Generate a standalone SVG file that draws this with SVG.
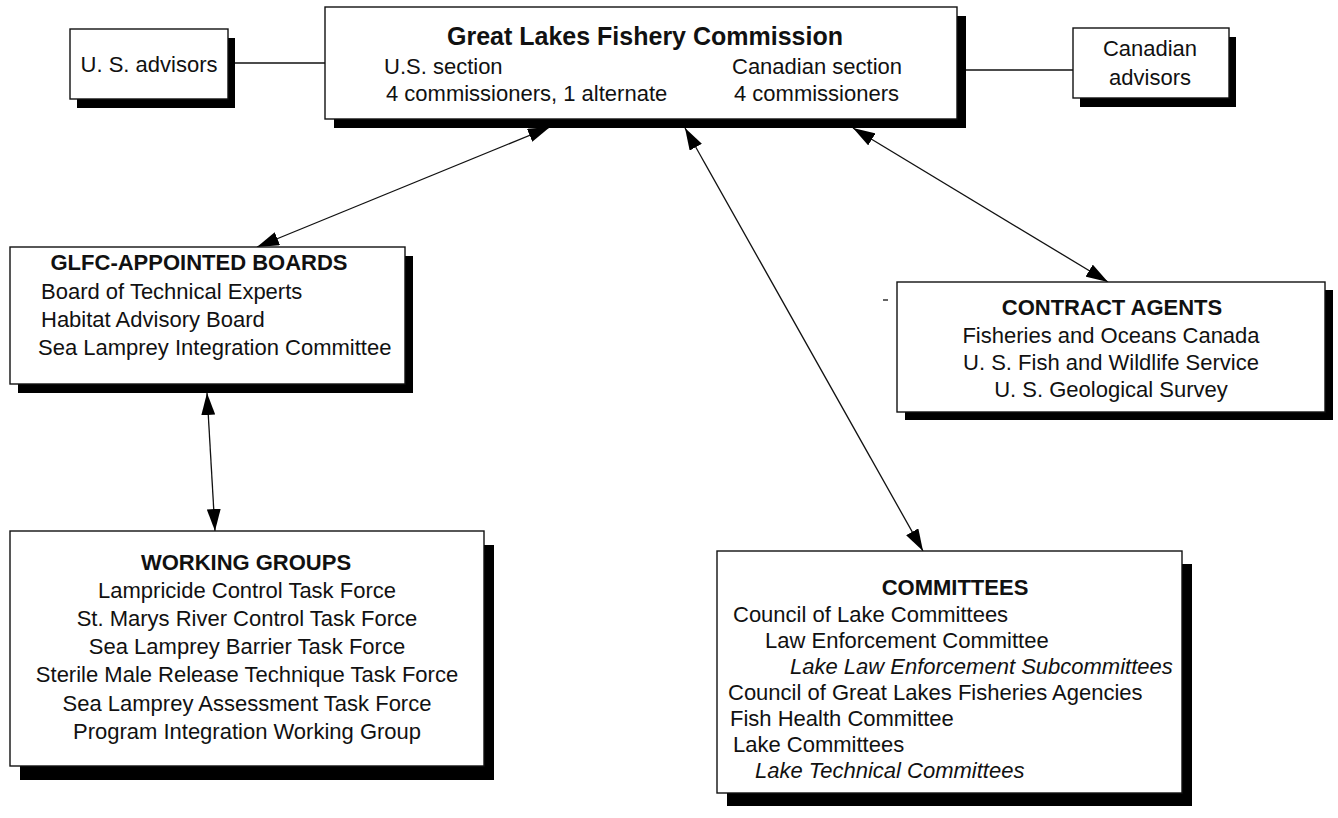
<svg xmlns="http://www.w3.org/2000/svg" width="1338" height="818" viewBox="0 0 1338 818">
<style>
  .box{fill:#fff;stroke:#111;stroke-width:1.4}
  .sh{fill:#000}
  text{font-family:"Liberation Sans",Arial,Helvetica,sans-serif;font-size:22px;fill:#111}
  .b{font-weight:bold}
  .t{font-size:25px;font-weight:bold}
  .i{font-style:italic}
  .m{text-anchor:middle}
  .ln{stroke:#111;stroke-width:1.3;fill:none}
</style>
<defs>
  <marker id="ah" viewBox="0 0 22 14" refX="22" refY="7" markerWidth="22" markerHeight="14" markerUnits="userSpaceOnUse" orient="auto-start-reverse">
    <path d="M0,0 L22,7 L0,14 Z" fill="#000"/>
  </marker>
</defs>
<rect width="1338" height="818" fill="#fff"/>

<g id="connectors">
  <line class="ln" x1="234" y1="63" x2="325" y2="63"/>
  <line class="ln" x1="966" y1="70" x2="1073" y2="70"/>
  <line class="ln" x1="550" y1="127" x2="257" y2="247" marker-start="url(#ah)" marker-end="url(#ah)"/>
  <line class="ln" x1="685" y1="128" x2="923" y2="551" marker-start="url(#ah)" marker-end="url(#ah)"/>
  <line class="ln" x1="853" y1="128" x2="1108" y2="282" marker-start="url(#ah)" marker-end="url(#ah)"/>
  <line class="ln" x1="207" y1="393" x2="215" y2="531" marker-start="url(#ah)" marker-end="url(#ah)"/>
  <line class="ln" x1="883" y1="300" x2="888" y2="300"/>
</g>

<g id="us-advisors">
  <rect class="sh" x="77" y="38" width="158" height="70"/>
  <rect class="box" x="70" y="29" width="158" height="70"/>
  <text x="149" y="72" class="m">U. S. advisors</text>
</g>

<g id="commission">
  <rect class="sh" x="334" y="16" width="632" height="112"/>
  <rect class="box" x="325" y="7" width="632" height="112"/>
  <text x="645" y="45" class="t m">Great Lakes Fishery Commission</text>
  <text x="384" y="74">U.S. section</text>
  <text x="386" y="101">4 commissioners, 1 alternate</text>
  <text x="732" y="74">Canadian section</text>
  <text x="734" y="101">4 commissioners</text>
</g>

<g id="canadian-advisors">
  <rect class="sh" x="1080" y="37" width="156" height="70"/>
  <rect class="box" x="1073" y="28" width="156" height="70"/>
  <text x="1150" y="56" class="m">Canadian</text>
  <text x="1150" y="85" class="m">advisors</text>
</g>

<g id="boards">
  <rect class="sh" x="18" y="256" width="395" height="137"/>
  <rect class="box" x="10" y="247" width="395" height="137"/>
  <text x="199" y="270" class="b m">GLFC-APPOINTED BOARDS</text>
  <text x="41" y="299">Board of Technical Experts</text>
  <text x="41" y="327">Habitat Advisory Board</text>
  <text x="38" y="355">Sea Lamprey Integration Committee</text>
</g>

<g id="contract-agents">
  <rect class="sh" x="905" y="290" width="428" height="130"/>
  <rect class="box" x="897" y="282" width="428" height="130"/>
  <text x="1112" y="315" class="b m">CONTRACT AGENTS</text>
  <text x="1111" y="343" class="m">Fisheries and Oceans Canada</text>
  <text x="1111" y="370" class="m">U. S. Fish and Wildlife Service</text>
  <text x="1111" y="397" class="m">U. S. Geological Survey</text>
</g>

<g id="working-groups">
  <rect class="sh" x="20" y="545" width="474" height="235"/>
  <rect class="box" x="10" y="531" width="474" height="235"/>
  <text x="246" y="570" class="b m">WORKING GROUPS</text>
  <text x="247" y="598" class="m">Lampricide Control Task Force</text>
  <text x="247" y="626" class="m">St. Marys River Control Task Force</text>
  <text x="247" y="654" class="m">Sea Lamprey Barrier Task Force</text>
  <text x="247" y="682" class="m">Sterile Male Release Technique Task Force</text>
  <text x="247" y="711" class="m">Sea Lamprey Assessment Task Force</text>
  <text x="247" y="739" class="m">Program Integration Working Group</text>
</g>

<g id="committees">
  <rect class="sh" x="727" y="564" width="465" height="242"/>
  <rect class="box" x="717" y="551" width="465" height="242"/>
  <text x="955" y="595" class="b m">COMMITTEES</text>
  <text x="733" y="622">Council of Lake Committees</text>
  <text x="765" y="648">Law Enforcement Committee</text>
  <text x="790" y="674" class="i">Lake Law Enforcement Subcommittees</text>
  <text x="728" y="700">Council of Great Lakes Fisheries Agencies</text>
  <text x="730" y="726">Fish Health Committee</text>
  <text x="733" y="752">Lake Committees</text>
  <text x="755" y="778" class="i">Lake Technical Committees</text>
</g>
</svg>
